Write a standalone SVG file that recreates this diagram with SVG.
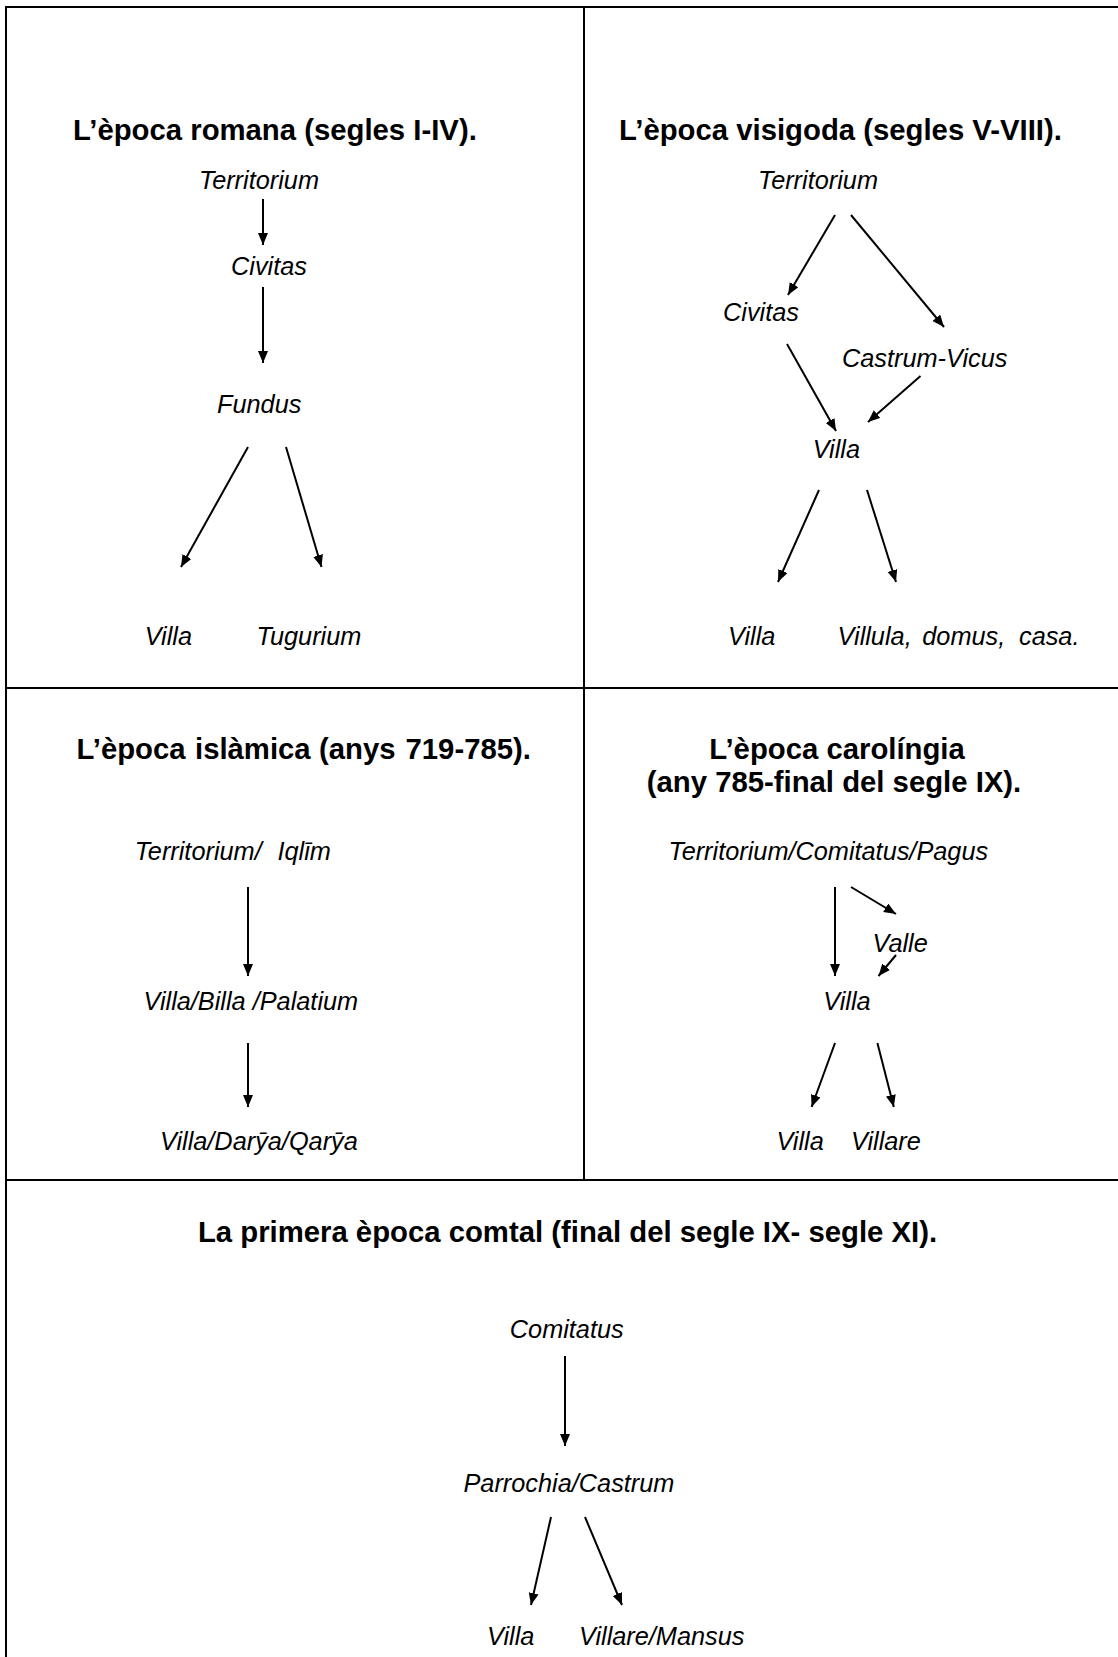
<svg xmlns="http://www.w3.org/2000/svg" width="1118" height="1657" viewBox="0 0 1118 1657">
<defs>
<style>
.frame{stroke:#000;stroke-width:2;fill:none}
.conn line{stroke:#000;stroke-width:2;fill:none;marker-end:url(#ah)}
.title{font-family:"Liberation Sans",Arial,sans-serif;font-weight:bold;font-size:29.3px;fill:#000}
.lab{font-family:"Liberation Sans",Arial,sans-serif;font-style:italic;font-size:25.3px;fill:#000}
</style>
<marker id="ah" markerUnits="userSpaceOnUse" markerWidth="13" markerHeight="11" refX="12" refY="5" orient="auto">
<path d="M0,0 L12,5 L0,10 Z" fill="#000"/>
</marker>
</defs>
<rect width="1118" height="1657" fill="#fff"/>
<g id="frame" class="frame">
<line x1="6" y1="7" x2="1118" y2="7"/>
<line x1="6" y1="6" x2="6" y2="1657"/>
<line x1="584" y1="7" x2="584" y2="1180"/>
<line x1="6" y1="688" x2="1118" y2="688"/>
<line x1="6" y1="1180" x2="1118" y2="1180"/>
</g>
<g id="titles">
<text id="t-romana" class="title" x="73" y="140">L’època romana (segles I-IV).</text>
<text id="t-visigoda" class="title" x="619" y="140">L’època visigoda (segles V-VIII).</text>
<text id="t-islamica" class="title" y="759"><tspan x="76.5">L’època</tspan><tspan x="195">islàmica</tspan><tspan x="319">(anys</tspan><tspan x="405.5">719-785).</tspan></text>
<text id="t-carolingia" class="title" text-anchor="middle"><tspan x="837" y="759">L’època carolíngia</tspan><tspan x="834" y="792">(any 785-final del segle IX).</tspan></text>
<text id="t-comtal" class="title" x="567.5" y="1242" text-anchor="middle">La primera època comtal (final del segle IX- segle XI).</text>
</g>
<g id="p1-territorium"><text class="lab" x="199" y="189">Territorium</text></g>
<g id="p1-civitas"><text class="lab" x="231" y="275">Civitas</text></g>
<g id="p1-fundus"><text class="lab" x="217" y="413">Fundus</text></g>
<g id="p1-villa"><text class="lab" x="144.7" y="645">Villa</text></g>
<g id="p1-tugurium"><text class="lab" x="256.4" y="645">Tugurium</text></g>
<g id="p2-territorium"><text class="lab" x="758" y="189">Territorium</text></g>
<g id="p2-civitas"><text class="lab" x="723" y="321">Civitas</text></g>
<g id="p2-castrum"><text class="lab" x="842" y="367">Castrum-Vicus</text></g>
<g id="p2-villa"><text class="lab" x="812.7" y="458">Villa</text></g>
<g id="p2-villa2"><text class="lab" x="728" y="645">Villa</text></g>
<g id="p2-villula"><text class="lab" y="645"><tspan x="837.6">Villula,</tspan><tspan x="922.3">domus,</tspan><tspan x="1019">casa.</tspan></text></g>
<g id="p3-territorium"><text class="lab" y="860"><tspan x="134.7">Territorium/</tspan><tspan x="277.5">Iqlīm</tspan></text></g>
<g id="p3-villa"><text class="lab" x="143.5" y="1010">Villa/Billa /Palatium</text></g>
<g id="p3-villa2"><text class="lab" x="160" y="1150">Villa/Darȳa/Qarȳa</text></g>
<g id="p4-territorium"><text class="lab" x="668.5" y="860">Territorium/Comitatus/Pagus</text></g>
<g id="p4-valle"><text class="lab" x="872.5" y="952">Valle</text></g>
<g id="p4-villa"><text class="lab" x="823.3" y="1010">Villa</text></g>
<g id="p4-villa2"><text class="lab" x="776.4" y="1150">Villa</text></g>
<g id="p4-villare"><text class="lab" x="851" y="1150">Villare</text></g>
<g id="p5-comitatus"><text class="lab" x="509.8" y="1338">Comitatus</text></g>
<g id="p5-parrochia"><text class="lab" x="463.5" y="1492">Parrochia/Castrum</text></g>
<g id="p5-villa"><text class="lab" x="487" y="1645">Villa</text></g>
<g id="p5-villare"><text class="lab" x="579" y="1645">Villare/Mansus</text></g>
<g id="connectors" class="conn">
<line x1="263" y1="199" x2="263" y2="245"/>
<line x1="263" y1="287" x2="263" y2="363"/>
<line x1="248" y1="447" x2="181" y2="567"/>
<line x1="286" y1="447" x2="321.5" y2="567"/>
<line x1="835" y1="215" x2="788" y2="295"/>
<line x1="851" y1="215" x2="944" y2="327"/>
<line x1="787" y1="344" x2="836" y2="431"/>
<line x1="920.5" y1="376" x2="868" y2="422"/>
<line x1="819" y1="490" x2="778" y2="582"/>
<line x1="867" y1="490" x2="896" y2="582"/>
<line x1="248" y1="887" x2="248" y2="976"/>
<line x1="248" y1="1043" x2="248" y2="1107"/>
<line x1="835" y1="887" x2="835" y2="976"/>
<line x1="851" y1="887" x2="896" y2="914"/>
<line x1="896" y1="955" x2="878.5" y2="976"/>
<line x1="835" y1="1043" x2="811.6" y2="1107"/>
<line x1="877.4" y1="1043" x2="893.8" y2="1107"/>
<line x1="565" y1="1356" x2="565" y2="1446"/>
<line x1="551" y1="1517" x2="531" y2="1605"/>
<line x1="585" y1="1517" x2="622" y2="1605"/>
</g>
</svg>
